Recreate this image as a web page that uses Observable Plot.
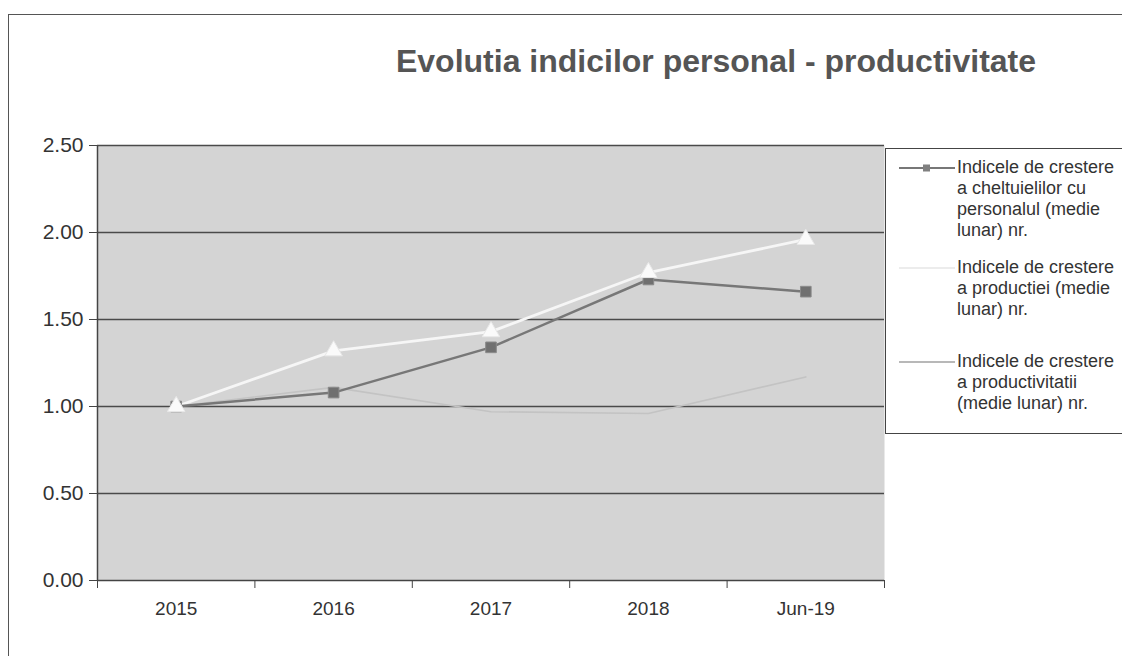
<!DOCTYPE html>
<html>
<head>
<meta charset="utf-8">
<script src="https://cdn.jsdelivr.net/npm/d3@7"></script>
<script src="https://cdn.jsdelivr.net/npm/@observablehq/plot@0.6"></script>
<style>
  html, body { margin: 0; padding: 0; background: #fff; overflow: hidden; }
  #wrap { position: relative; width: 1122px; height: 656px; overflow: hidden; font-family: "Liberation Sans", Arial, sans-serif; }
  #border { position: absolute; left: 8px; top: 14px; width: 1300px; height: 800px; border-left: 1.5px solid #555; border-top: 1.5px solid #555; }
  #title { position: absolute; left: 0; width: 1432px; top: 43px; line-height: 37px; text-align: center; font-weight: bold; font-size: 32px; color: #555; white-space: nowrap; }
  #chart { position: absolute; left: 0; top: 0; }
  #legend { position: absolute; left: 885px; top: 148px; width: 260px; height: 284px; border: 1.5px solid #444; background: #fff; }
  .entry { position: absolute; left: 0; }
  .entry svg { position: absolute; left: 13px; top: 5px; }
  .entry div { position: absolute; left: 71px; width: 190px; font-size: 18px; line-height: 21px; color: #333; white-space: nowrap; }
</style>
</head>
<body>
<div id="wrap">
  <div id="border"></div>
  <div id="chart"></div>
  <div id="title"></div>
  <div id="legend"></div>
</div>
<script>
const title = "Evolutia indicilor personal - productivitate";
const categories = ["2015", "2016", "2017", "2018", "Jun-19"];
const personnelCost = [1.00, 1.08, 1.34, 1.73, 1.66];
const production = [1.00, 1.32, 1.43, 1.77, 1.96];
const productivity = [1.00, 1.11, 0.97, 0.96, 1.17];
const yTicks = [0, 0.5, 1.0, 1.5, 2.0, 2.5];
const seriesNames = [
  "Indicele de crestere\na cheltuielilor cu\npersonalul (medie\nlunar) nr.",
  "Indicele de crestere\na productiei (medie\nlunar) nr.",
  "Indicele de crestere\na productivitatii\n(medie lunar)  nr."
];

const rows = categories.map((c, i) => ({ i, cat: c, cost: personnelCost[i], prod: production[i], pty: productivity[i] }));
const boundaries = d3.range(-0.5, categories.length, 1);

const chart = Plot.plot({
  width: 1122,
  height: 656,
  marginLeft: 97,
  marginRight: 238,
  marginTop: 145,
  marginBottom: 76,
  x: { domain: [-0.5, categories.length - 0.5], label: null },
  y: { domain: [0, 2.5], label: null },
  style: { background: "transparent", fontFamily: "Liberation Sans, Arial, sans-serif" },
  marks: [
    Plot.frame({ fill: "#d4d4d4", stroke: null }),
    Plot.ruleY(yTicks.slice(1), { stroke: "#4a4a4a", strokeWidth: 1.5 }),
    Plot.ruleY([0], { stroke: "#444", strokeWidth: 1.5 }),
    Plot.ruleX([-0.5], { stroke: "#444", strokeWidth: 1.5 }),
    Plot.axisY({ ticks: yTicks, tickFormat: d => d.toFixed(2), tickSize: 8, tickPadding: 6, fontSize: 21, fill: "#333", stroke: "#444" }),
    Plot.axisX({ ticks: boundaries, tickFormat: () => "", tickSize: 8, stroke: "#444" }),
    Plot.axisX({ ticks: d3.range(categories.length), tickFormat: i => categories[i], tickSize: 0, tickPadding: 21, fontSize: 19, fill: "#333" }),
    Plot.line(rows, { x: "i", y: "pty", stroke: "#c3c3c3", strokeWidth: 1.6 }),
    Plot.line(rows, { x: "i", y: "prod", stroke: "#f6f6f6", strokeWidth: 2.8 }),
    Plot.line(rows, { x: "i", y: "cost", stroke: "#777", strokeWidth: 2.5 }),
    Plot.dot(rows, { x: "i", y: "cost", symbol: "square", r: 6, fill: "#707070", stroke: "#8a8a8a", strokeWidth: 1 }),
    Plot.dot(rows, { x: "i", y: "prod", symbol: "triangle", r: 6.5, fill: "#fafafa", stroke: "#e8e8e8", strokeWidth: 1 })
  ]
});
document.getElementById("chart").appendChild(chart);
document.getElementById("title").textContent = title;

// legend
const legend = document.getElementById("legend");
const entryTops = [8, 108, 202];
const styles = [
  { stroke: "#777", marker: "square", fill: "#808080" },
  { stroke: "#ececec", marker: null },
  { stroke: "#b8b8b8", marker: null }
];
seriesNames.forEach((name, k) => {
  const e = document.createElement("div");
  e.className = "entry";
  e.style.top = entryTops[k] + "px";
  const st = styles[k];
  let svg = `<svg width="60" height="12"><line x1="0" x2="56" y1="6" y2="6" stroke="${st.stroke}" stroke-width="2"/>`;
  if (st.marker === "square") svg += `<rect x="24" y="2.5" width="7" height="7" fill="${st.fill}"/>`;
  svg += `</svg>`;
  e.innerHTML = svg;
  const t = document.createElement("div");
  t.innerHTML = name.split("\n").join("<br>");
  t.style.top = "0px";
  e.appendChild(t);
  legend.appendChild(e);
});
</script>
</body>
</html>
